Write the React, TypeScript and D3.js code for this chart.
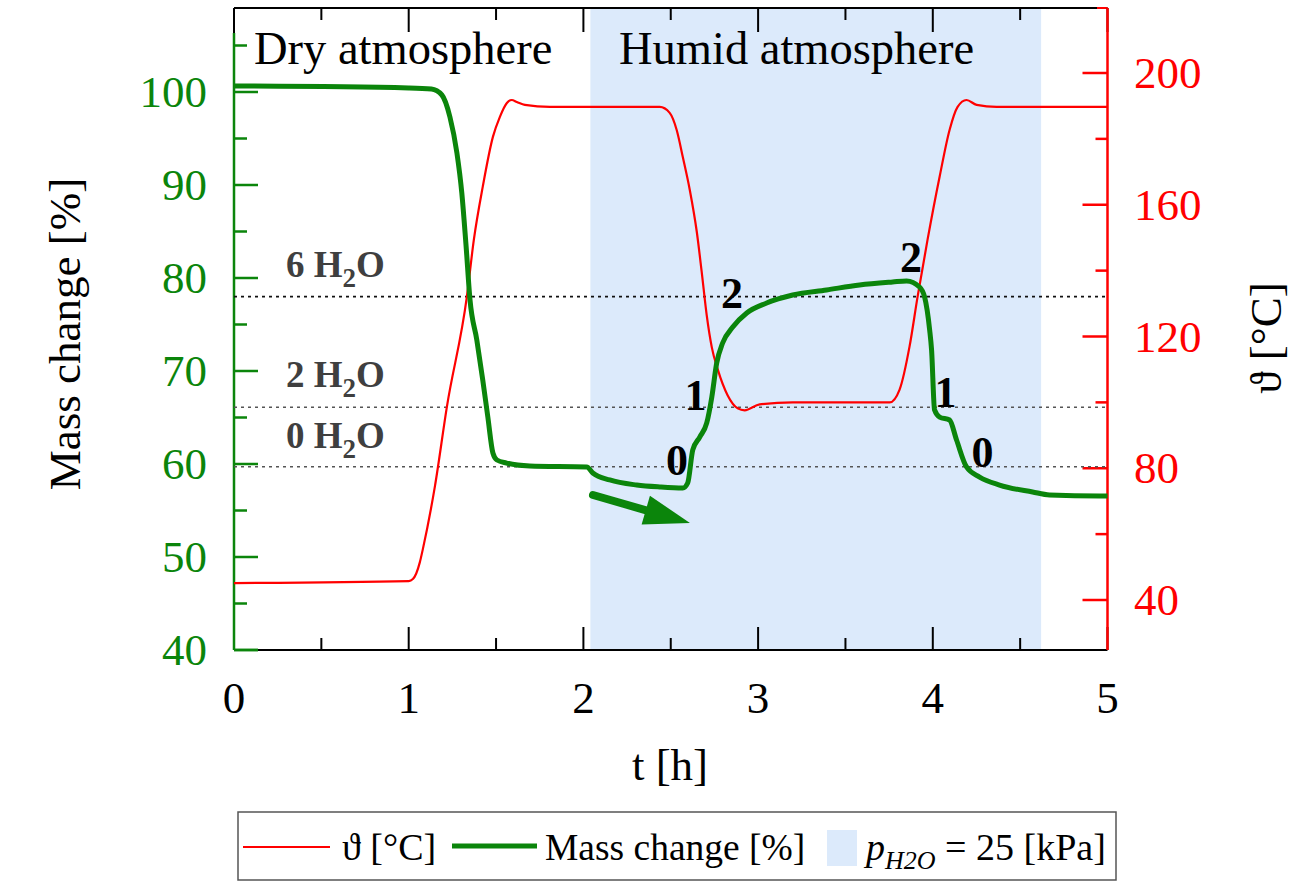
import React from "react";
import * as d3 from "d3";

// ---- data ----
const massT = [0, 1.0, 1.13, 1.19, 1.236, 1.276, 1.304, 1.328, 1.351, 1.39, 1.424, 1.453, 1.482, 1.505, 1.56, 1.693, 2.019, 2.054, 2.151, 2.305, 2.437, 2.569, 2.597, 2.626, 2.666, 2.706, 2.735, 2.763, 2.797, 2.855, 2.935, 3.049, 3.198, 3.392, 3.581, 3.77, 3.85, 3.924, 3.953, 3.982, 3.993, 4.01, 4.039, 4.096, 4.136, 4.193, 4.268, 4.382, 4.571, 4.668, 4.954, 5.0];
const massV = [100.65, 100.43, 100.32, 99.68, 97.31, 93.44, 89.14, 83.55, 77.63, 73.33, 69.03, 65.05, 61.18, 60.43, 60.1, 59.78, 59.68, 59.03, 58.28, 57.74, 57.53, 57.42, 57.96, 61.51, 62.9, 64.41, 67.2, 70.86, 73.01, 74.73, 76.24, 77.31, 78.17, 78.71, 79.25, 79.57, 79.68, 79.03, 77.96, 74.41, 72.26, 65.81, 65.05, 64.73, 62.58, 59.68, 58.6, 57.74, 56.99, 56.67, 56.56, 56.56];

const tempT = [0, 1.0, 1.024, 1.064, 1.081, 1.15, 1.219, 1.333, 1.373, 1.424, 1.482, 1.522, 1.562, 1.59, 1.619, 1.665, 1.808, 2.094, 2.437, 2.494, 2.534, 2.569, 2.609, 2.649, 2.677, 2.706, 2.735, 2.769, 2.826, 2.883, 2.923, 3.009, 3.198, 3.753, 3.81, 3.867, 3.913, 3.97, 4.039, 4.096, 4.142, 4.193, 4.251, 4.365, 5.0];
const tempV = [45.15, 45.76, 46.36, 51.5, 55.45, 74.5, 98.8, 132.1, 149.4, 165.5, 180.6, 186.7, 190.9, 191.8, 191.2, 190.3, 189.7, 189.7, 189.7, 187.9, 182.7, 174.5, 164.5, 151.8, 139.7, 126.4, 116.7, 110.0, 102.1, 98.2, 97.6, 99.4, 100.0, 100.0, 103.9, 117.0, 132.1, 149.4, 168.5, 182.7, 189.7, 191.8, 190.3, 189.7, 189.7];

const humidStart = 2.04;
const humidEnd = 4.62;

const hydrateLevels = [78, 66.1, 59.7];
const hydrateNames = ["6", "2", "0"];
const hydrateLabelM = [80.11, 68.28, 61.72];

const xTicksMajor = [0, 1, 2, 3, 4, 5];
const xTicksMinor = [0.5, 1.5, 2.5, 3.5, 4.5];
const leftMajor = [40, 50, 60, 70, 80, 90, 100];
const leftMinor = [45, 55, 65, 75, 85, 95, 105];
const rightMajor = [40, 80, 120, 160, 200];
const rightMinor = [60, 100, 140, 180];

// step labels on the mass curve (t, mass at baseline, label)
const stepT = [2.851, 2.641, 2.536, 3.875, 4.073, 4.284];
const stepM = [76.77, 65.81, 58.82, 80.65, 66.13, 59.68];
const stepLabel = ["2", "1", "0", "2", "1", "0"];

const arrowFrom = [2.055, 56.67];
const arrowTo = [2.61, 53.66];

const SERIF = "'Liberation Serif', 'Times New Roman', serif";
const GREEN = "#0b850b";
const RED = "#ff0000";
const BLUE = "#dceafb";

export default function App() {
  const W = 1293, H = 884;
  const x = d3.scaleLinear().domain([0, 5]).range([234, 1107.5]);
  const yL = d3.scaleLinear().domain([40, 100]).range([650, 92]);
  const yR = d3.scaleLinear().domain([40, 200]).range([600, 73]);
  const top = 8, bottom = 650, left = x(0), right = x(5);

  const massLine = d3.line<number>().x((d, i) => x(massT[i])).y((d) => yL(d)).curve(d3.curveMonotoneX);
  const tempLine = d3.line<number>().x((d, i) => x(tempT[i])).y((d) => yR(d)).curve(d3.curveMonotoneX);

  const ax0 = x(arrowFrom[0]), ay0 = yL(arrowFrom[1]);
  const ax1 = x(arrowTo[0]), ay1 = yL(arrowTo[1]);
  const ang = Math.atan2(ay1 - ay0, ax1 - ax0);
  const headLen = 46, headW = 15;
  const bx = ax1 - headLen * Math.cos(ang), by = ay1 - headLen * Math.sin(ang);
  const nx = -Math.sin(ang), ny = Math.cos(ang);

  return (
    <svg width={W} height={H} style={{ position: "absolute", left: 0, top: 0, background: "#fff" }} fontFamily={SERIF}>
      <rect x={0} y={0} width={W} height={H} fill="#fff" />
      {/* humid region */}
      <rect x={x(humidStart)} y={top} width={x(humidEnd) - x(humidStart)} height={bottom - top} fill={BLUE} />

      {/* frame */}
      <line x1={left} x2={right} y1={top} y2={top} stroke="#000" strokeWidth={2} />
      <line x1={x(4.94)} x2={right} y1={top} y2={top} stroke={RED} strokeWidth={2} />
      <line x1={left} x2={right} y1={bottom} y2={bottom} stroke="#000" strokeWidth={2} />
      <line x1={left} x2={left} y1={top} y2={bottom} stroke="#000" strokeWidth={2} />

      {/* x ticks */}
      {xTicksMajor.map((t) => (
        <g key={"xm" + t}>
          <line x1={x(t)} x2={x(t)} y1={bottom} y2={bottom - 23} stroke="#000" strokeWidth={2} />
          <line x1={x(t)} x2={x(t)} y1={top} y2={top + 24} stroke="#000" strokeWidth={2} />
          <text x={x(t)} y={713} fontSize={45} textAnchor="middle" fill="#000">{t}</text>
        </g>
      ))}
      {xTicksMinor.map((t) => (
        <g key={"xn" + t}>
          <line x1={x(t)} x2={x(t)} y1={bottom} y2={bottom - 12} stroke="#000" strokeWidth={2} />
          <line x1={x(t)} x2={x(t)} y1={top} y2={top + 12} stroke="#000" strokeWidth={2} />
        </g>
      ))}

      {/* left axis (green) */}
      <line x1={left} x2={left} y1={33} y2={bottom} stroke={GREEN} strokeWidth={2.5} />
      <line x1={left} x2={left + 24} y1={bottom} y2={bottom} stroke={GREEN} strokeWidth={2.5} />
      {leftMajor.map((v) => (
        <g key={"lm" + v}>
          <line x1={left} x2={left + 24} y1={yL(v)} y2={yL(v)} stroke={GREEN} strokeWidth={2.5} />
          <text x={207} y={yL(v) + 15} fontSize={45} textAnchor="end" fill={GREEN}>{v}</text>
        </g>
      ))}
      {leftMinor.map((v) => (
        <line key={"ln" + v} x1={left} x2={left + 13} y1={yL(v)} y2={yL(v)} stroke={GREEN} strokeWidth={2.5} />
      ))}

      {/* right axis (red) */}
      <line x1={right} x2={right} y1={top} y2={bottom} stroke={RED} strokeWidth={2.5} />
      {rightMajor.map((v) => (
        <g key={"rm" + v}>
          <line x1={right} x2={right - 25} y1={yR(v)} y2={yR(v)} stroke={RED} strokeWidth={2.5} />
          <text x={1134} y={yR(v) + 15} fontSize={45} textAnchor="start" fill={RED}>{v}</text>
        </g>
      ))}
      {rightMinor.map((v) => (
        <line key={"rn" + v} x1={right} x2={right - 12} y1={yR(v)} y2={yR(v)} stroke={RED} strokeWidth={2.5} />
      ))}

      {/* hydrate level lines */}
      {hydrateLevels.map((v, i) => (
        <line key={"hl" + i} x1={left} x2={right} y1={yL(v)} y2={yL(v)} stroke={i === 0 ? "#111" : "#555"} strokeWidth={1.6} strokeDasharray="3,4" />
      ))}
      {hydrateLevels.map((v, i) => (
        <text key={"ht" + i} x={286} y={yL(hydrateLabelM[i])} fontSize={37} fontWeight="bold" fill="#3f3f3f">
          {hydrateNames[i] + " H"}
          <tspan fontSize={27} dy={10}>2</tspan>
          <tspan dy={-10}>O</tspan>
        </text>
      ))}

      {/* region titles */}
      <text x={254} y={64} fontSize={46.5} fill="#000">Dry atmosphere</text>
      <text x={619} y={64} fontSize={46.5} fill="#000">Humid atmosphere</text>

      {/* curves */}
      <path d={tempLine(tempV) || ""} fill="none" stroke={RED} strokeWidth={2.2} />
      <path d={massLine(massV) || ""} fill="none" stroke={GREEN} strokeWidth={5} strokeLinejoin="round" />

      {/* step labels */}
      {stepLabel.map((s, i) => (
        <text key={"sl" + i} x={x(stepT[i])} y={yL(stepM[i])} fontSize={44} fontWeight="bold" textAnchor="middle" fill="#000">{s}</text>
      ))}

      {/* arrow */}
      <line x1={ax0} y1={ay0} x2={bx + 4 * Math.cos(ang)} y2={by + 4 * Math.sin(ang)} stroke={GREEN} strokeWidth={8} strokeLinecap="round" />
      <polygon points={`${ax1},${ay1} ${bx + nx * headW},${by + ny * headW} ${bx - nx * headW},${by - ny * headW}`} fill={GREEN} />

      {/* axis titles */}
      <text transform="translate(80,334) rotate(-90)" fontSize={45} textAnchor="middle" fill="#000">Mass change [%]</text>
      <text transform="translate(1281,338) rotate(-90)" fontSize={45} textAnchor="middle" fill="#000">ϑ [°C]</text>
      <text x={670} y={780} fontSize={45} textAnchor="middle" fill="#000">t [h]</text>

      {/* legend */}
      <rect x={238} y={812} width={878} height={68} fill="#fff" stroke="#555" strokeWidth={1.5} />
      <line x1={243} x2={330} y1={847} y2={847} stroke={RED} strokeWidth={2.2} />
      <text x={342} y={860} fontSize={38} fill="#000">ϑ [°C]</text>
      <line x1={452} x2={537} y1={846} y2={846} stroke={GREEN} strokeWidth={5} />
      <text x={545} y={860} fontSize={37.5} fill="#000">Mass change [%]</text>
      <rect x={827} y={830} width={30} height={36} fill={BLUE} />
      <text x={866} y={860} fontSize={38} fill="#000">
        <tspan fontStyle="italic">p</tspan>
        <tspan fontStyle="italic" fontSize={26} dy={9}>H2O</tspan>
        <tspan dy={-9}> = 25 [kPa]</tspan>
      </text>
    </svg>
  );
}
